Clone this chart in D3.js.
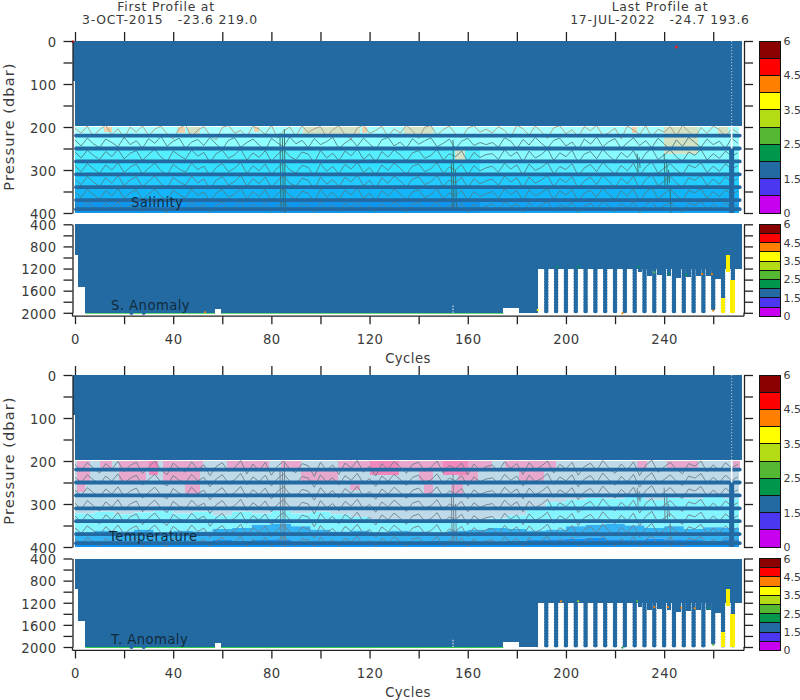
<!DOCTYPE html>
<html><head><meta charset="utf-8">
<script src="https://cdn.jsdelivr.net/npm/d3@7"></script>
<style>html,body{margin:0;padding:0;background:#fff}svg{display:block}
text{font-family:"DejaVu Sans",sans-serif;fill:#3a3a3a;font-size:13.2px;letter-spacing:.45px}
.tick line,.domain{stroke:#222;stroke-width:1.3;fill:none}
rect{shape-rendering:crispEdges}
</style></head><body><svg id="c" width="800" height="700"></svg>
<script>
// ---------- axis labels ----------
const shallowTicks=[0,50,100,150,200,250,300,350,400];
const shallowLabels=[0,100,200,300,400];
const deepTicks=[400,600,800,1000,1200,1400,1600,1800,2000];
const deepLabels=[400,800,1200,1600,2000];
const cycleTicks=[0,20,40,60,80,100,120,140,160,180,200,220,240,260];
const cycleLabels=[0,40,80,120,160,200,240];
const barLabels=["6","4.5","3.5","2.5","1.5","0"];
const barLabelPos=[0,2,4,6,8,10];
const barColors=["#8b0000","#ff0000","#ff8000","#ffff00","#b4dc14","#55b832","#00964b","#236aa3","#4b37f0","#c800f0"];
const headerLines=["First Profile at","3-OCT-2015   -23.6 219.0","Last Profile at","17-JUL-2022   -24.7 193.6"];
// ---------- sampled levels, fills ----------
const bandLevels=[220,250,280,310,340,370,391];
const bandStops=[200,220,250,280,310,340,370,400];
const salFillLeft=["#a8ffff","#90ffff","#55eeff","#33dfff","#22caff","#14b4f8","#1196f0"];
const salFillRight=["#a8ffff","#9cffff","#88faff","#55eaff","#22ccff","#14b4f8","#14a4f6"];
const tanStart=[12,42,46,73,93,117,134,155,227,240,262];
const tanEnd=[15,45,51,75,116,119,146,159,229,254,266];
const tanTop=[200,200,200,200,200,200,200,250,200,200,200];
const tanBottom=[212,214,218,212,219,214,219,280,214,262,218];
const tempBoundCycles=[0,8,16,24,32,40,48,56,64,72,80,88,96,104,112,120,128,136,144,152,160,168,176,184,192,200,208,216,224,232,240,248,256,264,272];
const tempCyan=[322,318,324,320,316,322,318,326,318,322,316,322,318,324,330,338,340,342,338,344,338,334,326,312,296,290,286,288,284,290,286,288,284,288,286];
const tempBlue=[366,362,364,360,366,362,364,358,356,348,346,352,360,364,362,366,362,364,366,362,360,356,358,362,360,352,348,346,350,356,352,358,354,356,352];
const tempDeep=[392,390,388,392,390,392,388,384,386,384,382,388,390,392,388,390,392,390,386,392,390,388,386,384,382,380,378,382,384,380,382,384,386,382,384];
const pinkStart=[1,10,18,36,47,62,69,84,107,134,175,229,241,268,1,18,36,92,140,156,181,1,45,112,142,153];
const pinkEnd=[6,15,30,50,52,69,79,92,134,170,196,233,254,271,6,29,51,107,146,164,191,4,51,116,146,158];
const pinkTop=[200,200,200,200,200,200,200,200,200,200,200,200,200,200,220,220,220,220,220,220,220,250,250,250,250,250];
const pinkBottom=[220,220,220,220,220,220,220,220,220,220,220,220,220,220,250,250,250,250,250,250,250,272,280,268,280,280];
const hotStart=[30,120,150,156];
const hotEnd=[34,132,160,159];
// ---------- contours (pressure per 2.5 cycles) ----------
const contourStep=2.5;
const salC1=[203,214,198,222,206,196,218,204,226,200,212,197,220,205,198,216,228,203,195,224,207,199,219,230,201,196,214,208,222,198,205,217,196,226,209,200,221,197,213,204,199,224,206,197,218,228,202,196,215,208,198,223,204,214,196,209,227,200,197,219,206,198,216,225,203,197,212,205,214,199,208,225,196,204,219,198,211,227,202,197,216,206,223,199,209,196,220,213,203,228,198,207,217,197,224,205,212,199,221,196,210,226,201,215,198,206,222,204,213];
const salC2=[230,244,226,239,248,228,236,246,224,241,232,249,227,238,222,245,233,226,250,235,229,243,224,240,252,231,225,247,236,228,242,254,226,237,246,223,239,231,248,227,241,234,224,250,237,228,245,226,239,252,230,224,244,235,249,227,240,232,225,246,238,228,251,233,226,243,236,241,236,247,225,233,251,229,242,224,238,249,231,226,244,235,253,228,240,223,246,234,227,250,237,225,243,232,248,226,239,254,230,245,224,236,247,228,241,233,250,226,238];
const salC3=[258,272,254,266,276,257,269,252,274,261,255,278,263,252,270,281,256,266,275,253,268,259,283,262,254,273,265,251,277,260,271,255,280,264,252,269,276,258,263,284,254,272,261,278,256,267,251,275,263,282,257,270,253,265,279,260,255,273,266,252,277,262,269,256,280,259,271,264,262,275,253,268,258,281,256,272,264,251,278,260,269,254,283,263,257,274,252,267,279,259,271,255,284,261,250,276,265,253,270,280,258,266,252,277,262,273,256,268,260];
const salC4=[290,304,285,297,308,288,300,283,306,293,286,309,296,284,301,312,287,298,305,284,299,291,314,294,285,304,296,282,308,290,302,286,311,295,283,300,307,289,294,315,285,303,292,309,287,298,282,306,294,313,288,301,284,296,310,291,286,304,297,283,308,293,300,287,311,290,302,295,291,305,284,298,288,312,286,301,294,283,309,292,299,285,313,295,287,304,282,297,310,289,302,284,314,293,281,307,296,285,300,311,288,295,283,306,291,303,286,298,290];
const salC5=[322,334,315,328,338,318,331,313,336,323,316,339,326,314,332,342,317,328,335,314,330,321,344,324,315,335,327,312,338,320,332,316,341,325,313,331,337,319,324,345,316,333,322,339,317,328,312,336,324,343,318,331,314,326,340,321,316,334,327,313,338,323,330,317,341,320,332,325,321,336,314,328,318,342,316,331,323,313,339,320,329,315,343,325,317,334,312,327,340,319,332,314,344,322,311,337,326,315,330,341,318,324,313,336,321,333,316,328,320];
const salC6=[351,364,345,358,367,348,360,343,366,353,346,369,356,344,361,371,347,358,365,344,359,351,373,354,345,364,356,342,368,350,362,346,371,355,343,360,367,349,354,374,345,363,352,369,347,358,342,366,354,372,348,361,344,356,370,351,346,364,357,343,368,353,360,347,371,350,362,355,350,365,344,357,348,372,346,360,353,343,369,349,358,345,373,354,347,363,342,356,370,348,361,344,374,352,341,367,355,345,359,371,347,353,343,366,350,362,346,357,349];
const salC7=[378,392,375,386,396,377,389,374,394,382,376,397,385,373,390,399,376,387,393,374,388,380,399,383,375,392,385,372,396,379,390,376,398,384,373,389,395,378,383,399,375,391,381,397,377,387,372,394,383,398,378,390,374,385,397,380,376,392,386,373,396,382,389,377,398,379,390,384,379,393,374,386,378,398,376,390,382,373,396,380,387,375,399,384,377,392,372,385,397,378,389,374,399,381,371,394,383,375,388,398,377,382,373,393,379,391,376,386,380];
const tmpC1=[208,222,204,216,228,206,219,201,225,210,203,229,214,200,221,232,205,217,226,202,220,209,234,213,204,224,216,199,230,207,223,203,233,212,200,219,227,206,211,236,203,222,209,231,205,216,199,226,212,235,206,220,201,214,229,208,203,224,215,200,228,210,218,205,232,207,221,213,209,224,202,217,206,231,204,220,212,200,228,208,218,203,233,213,205,223,199,216,229,207,221,202,234,210,198,226,214,203,219,230,206,212,200,225,209,222,204,216,208];
const tmpC2=[238,250,232,244,254,235,247,230,252,240,233,256,243,231,249,258,234,245,251,231,246,238,260,242,232,251,244,229,255,237,248,233,258,241,230,247,253,236,240,261,232,249,239,256,234,245,229,252,241,259,235,247,231,243,257,238,233,250,244,230,254,240,246,234,258,237,248,242,239,252,231,245,235,258,233,248,241,229,255,237,246,232,260,242,234,251,228,244,256,236,249,231,261,239,227,253,243,232,247,257,235,240,229,252,238,250,233,245,237];
const tmpC3=[268,280,262,274,284,265,277,260,282,270,263,286,273,261,279,288,264,275,281,261,276,268,290,272,262,281,274,259,285,267,278,263,288,271,260,277,283,266,270,291,262,279,269,286,264,275,259,282,271,289,265,277,261,273,287,268,263,280,274,260,284,270,276,264,288,267,278,272,269,282,261,275,265,288,263,278,271,259,285,267,276,262,290,272,264,281,258,274,286,266,279,261,291,269,257,283,273,262,277,287,265,270,259,282,268,280,263,275,267];
const tmpC4=[298,312,292,304,316,295,307,290,314,300,293,318,303,291,309,320,294,305,311,291,306,298,322,302,292,311,304,289,315,297,308,293,318,301,290,307,313,296,300,323,292,309,299,316,294,305,289,312,301,319,295,307,291,303,317,298,293,310,304,290,314,300,306,294,318,297,308,302,299,313,291,305,295,318,293,308,301,289,315,297,306,292,320,302,294,311,288,304,316,296,309,291,321,299,287,313,303,292,307,317,295,300,289,312,298,310,293,305,297];
const tmpC5=[328,342,323,334,346,325,337,320,344,330,323,348,333,321,339,350,324,335,341,321,336,328,352,332,322,341,334,319,345,327,338,323,348,331,320,337,343,326,330,353,322,339,329,346,324,335,319,342,331,349,325,337,321,333,347,328,323,340,334,320,344,330,336,324,348,327,338,332,329,343,322,335,325,348,323,338,331,319,345,327,336,322,350,332,324,341,318,334,346,326,339,321,351,329,317,343,333,322,337,347,325,330,319,342,328,340,323,335,327];
const tmpC6=[356,368,351,362,372,353,365,349,370,358,351,374,361,349,367,376,352,363,369,349,364,356,378,360,350,369,362,347,373,355,366,351,376,359,348,365,371,354,358,379,350,367,357,374,352,363,347,370,359,377,353,365,349,361,375,356,351,368,362,348,372,358,364,352,376,355,366,360,357,369,350,363,353,374,351,366,359,347,372,355,364,350,376,360,352,368,346,362,373,354,367,349,377,357,345,370,361,350,365,374,353,358,347,369,356,367,351,363,355];
const tmpC7=[382,394,378,388,398,380,391,376,396,384,378,399,387,376,393,399,379,389,395,376,390,383,399,386,377,395,388,375,398,382,392,378,399,385,375,391,397,381,384,399,377,393,383,399,379,389,375,396,385,399,380,391,376,387,399,382,378,394,388,375,398,384,390,379,399,381,392,386,383,395,377,389,380,398,378,392,385,375,397,381,390,377,399,386,379,394,374,388,398,380,393,376,399,383,373,395,387,377,391,398,379,384,375,394,382,392,378,389,381];
const salContours=[salC1,salC2,salC3,salC4,salC5,salC6,salC7];
const tmpContours=[tmpC1,tmpC2,tmpC3,tmpC4,tmpC5,tmpC6,tmpC7];
const spikeCycle=[83.5,84.5,85.3,153.3,154,155,229,229.8,240,241,241.8,242.4];
const spikeTop=[215,225,205,280,230,300,262,270,262,275,300,340];
const spikeBottom=[398,398,400,392,392,385,305,295,345,335,330,400];
// ---------- top-panel overlays ----------
const redCycle=[-0.8,245];
const redPress=[2,14];
const blueBarCycle=[267.5];
const blueBarTop=[250];
const blueBarBottom=[400];
// ---------- deep panels ----------
const segStart=[0,1.2,4.2,174.5,181,188.7];
const segEnd=[1.2,4.2,174.5,181,188.7,271.6];
const segBottom=[960,1530,2000,1915,2000,1200];
const columnCycle=[192,196,200,204,208,212,216,220,224,228,232,236,240,244,248,252,256,260,264,268];
const columnBottom=[2000,2000,2000,2000,2000,2000,2000,2000,2000,2000,2000,2000,2000,2000,2000,2000,2000,1950,2000,2000];
const shoulderStart=[229.5,233,237,241,245,249,253,257,260.5];
const shoulderEnd=[231,235,239,243,247,251,255,259,263];
const shoulderBottom=[1270,1330,1310,1340,1370,1350,1340,1340,1390];
const yellowStart=[263,265.2,267];
const yellowEnd=[264.6,267,268.8];
const yellowTop=[1730,955,1407];
const yellowBottom=[2000,1257,2000];
const notchCycle=[57,59.6];
const notchTop=1930;
const dotCycle=[23,28];
const saTipCycle=[196.5,205,229.5,236,242,249,255.5,259.5,260,53,223,188.5];
const saTipPress=[1170,1170,1170,1270,1300,1310,1300,1300,1960,1990,2010,1950];
const saTipColor=[6,6,6,5,6,6,2,2,2,2,2,3];
const taTipCycle=[198,205,229,236,241.5,247,252.5,258,260,223];
const taTipPress=[1175,1175,1170,1280,1280,1290,1300,1300,1960,2010];
const taTipColor=[2,4,5,2,2,2,2,6,5,6];

const svg=d3.select("#c");
const x=d3.scaleLinear().domain([0,271.6]).range([75,741.7]);
const dark="#236aa3";
const lineGen=d3.line().x((d,i)=>x(i*contourStep)).y(d=>d);

function shallowPanel(top,bottom,kind){
  const y=d3.scaleLinear().domain([0,400]).range([top,bottom]);
  const g=svg.append("g");
  const f=g.append("g");
  if(kind==="S"){
    bandStops.slice(0,-1).forEach((p,i)=>{
      f.append("rect").attr("x",x(0)).attr("width",x(165)-x(0)).attr("y",y(p)).attr("height",y(bandStops[i+1])-y(p)).attr("fill",salFillLeft[i]);
      f.append("rect").attr("x",x(165)).attr("width",x(270.5)-x(165)).attr("y",y(p)).attr("height",y(bandStops[i+1])-y(p)).attr("fill",salFillRight[i]);
    });
    tanStart.forEach((c,i)=>{
      f.append("rect").attr("x",x(c)).attr("width",x(tanEnd[i])-x(c)).attr("y",y(tanTop[i])).attr("height",y(tanBottom[i])-y(tanTop[i])).attr("fill",(tanEnd[i]-c)<3.5?"#eed0aa":"#d2e2c4");
    });
  }else{
    const mk=(a,b,col)=>f.append("path").attr("fill",col).attr("d",d3.area().curve(d3.curveStepAfter)
      .x((d,i)=>x(Math.min(tempBoundCycles[i],270.5))).y0((d,i)=>y(a[i])).y1((d,i)=>y(b?b[i]:400))(tempBoundCycles));
    const top200=tempBoundCycles.map(()=>200);
    mk(top200,tempCyan,"#bedae9");
    mk(tempCyan,tempBlue,"#84f4ff");
    mk(tempBlue,tempDeep,"#33b2f4");
    mk(tempDeep,null,"#0f90f5");
    pinkStart.forEach((c,i)=>f.append("rect").attr("x",x(c)).attr("width",x(pinkEnd[i])-x(c)).attr("y",y(pinkTop[i])).attr("height",y(pinkBottom[i])-y(pinkTop[i])).attr("fill","#e8a8cd"));
    hotStart.forEach((c,i)=>f.append("rect").attr("x",x(c)).attr("width",x(hotEnd[i])-x(c)).attr("y",y(200)).attr("height",y(232)-y(200)).attr("fill","#f088bd"));
  }
  // contours
  const cs=kind==="S"?salContours:tmpContours;
  cs.forEach((arr,k)=>{
    g.append("path").attr("fill","none").attr("stroke",kind==="S"?(k===0?"#a89a78":"#4f7f88"):"#6f7f88")
      .attr("stroke-width",.9).attr("d",lineGen(arr.map(p=>y(p))));
  });
  spikeCycle.forEach((c,i)=>{
    g.append("line").attr("x1",x(c)).attr("x2",x(c)+1).attr("y1",y(spikeTop[i])).attr("y2",y(spikeBottom[i])).attr("stroke",kind==="S"?"#3a6a60":"#6f7f88").attr("stroke-width",.9);
  });
  // sampled levels
  bandLevels.forEach(p=>{
    g.append("line").attr("x1",x(0)+1).attr("x2",x(270.8)).attr("y1",y(p)).attr("y2",y(p)).attr("stroke",dark).attr("stroke-width",3.8).attr("stroke-linecap","round");
  });
  // top block
  g.append("rect").attr("x",72.5).attr("width",x(0)-72.5).attr("y",y(0)).attr("height",y(92)-y(0)).attr("fill",dark);
  g.append("rect").attr("x",x(0)).attr("width",x(271.6)-x(0)).attr("y",y(0)).attr("height",y(197)-y(0)).attr("fill",dark);
  blueBarCycle.forEach((c,i)=>{
    g.append("line").attr("x1",x(c)).attr("x2",x(c)).attr("y1",y(blueBarTop[i])).attr("y2",y(blueBarBottom[i])).attr("stroke",dark).attr("stroke-width",5);
    g.append("line").attr("x1",x(c)).attr("x2",x(c)).attr("y1",y(0)).attr("y2",y(197)).attr("stroke","#c9dcea").attr("stroke-width",.8).attr("stroke-dasharray","1.2 1.8");
    g.append("line").attr("x1",x(c)).attr("x2",x(c)).attr("y1",y(197)).attr("y2",y(blueBarTop[i])).attr("stroke","#fff").attr("stroke-width",1.6);
  });
  if(kind==="S"){
    redCycle.forEach((c,i)=>g.append("circle").attr("cx",x(c)).attr("cy",y(redPress[i])).attr("r",1.5).attr("fill","#e8202a"));
  }
  // axes
  const fmt=d=>shallowLabels.includes(d)?d:"";
  const l=g.append("g").attr("transform","translate(72.5,0)").call(d3.axisLeft(y).tickValues(shallowTicks).tickFormat(fmt).tickSize(9).tickSizeOuter(0));
  g.append("g").attr("transform","translate(744,0)").call(d3.axisRight(y).tickValues(shallowTicks).tickFormat("").tickSize(9).tickSizeOuter(0));
  l.attr("font-size",null).attr("font-family",null);
  l.selectAll("text").attr("dx","-4").attr("dy","0.4em");
  const t=g.append("g").attr("transform",`translate(0,${top})`).call(d3.axisTop(x).tickValues(cycleTicks).tickFormat("").tickSize(9).tickSizeOuter(0));
  t.select(".domain").remove();
  g.append("text").attr("transform",`translate(14,${(top+bottom)/2-.5}) rotate(-90)`).attr("text-anchor","middle").text("Pressure (dbar)").style("font-size","14.6px").style("letter-spacing","1.1px");
  colorBar(top,bottom);
  return y;
}

function colorBar(top,bottom){
  const h=(bottom-top)/barColors.length;
  const g=svg.append("g");
  barColors.forEach((c,i)=>g.append("rect").attr("x",759).attr("y",top+i*h).attr("width",21).attr("height",h).attr("fill",c).attr("stroke","#111").attr("stroke-width",1));
  barLabels.forEach((s,i)=>g.append("text").attr("x",783.5).attr("y",top+barLabelPos[i]*h+4).style("font-size","11px").style("letter-spacing","0").text(s));
}

function deepPanel(top,kind){
  const yBot=top+88.5;
  const y=d3.scaleLinear().domain([400,2000]).range([top,yBot]);
  const g=svg.append("g");
  // green bottom rim
  g.append("line").attr("x1",x(4.2)).attr("x2",x(174.5)).attr("y1",y(2000)+.4).attr("y2",y(2000)+.4).attr("stroke","#2fcf4a").attr("stroke-width",1.2);
  segStart.forEach((c,i)=>g.append("rect").attr("x",x(c)).attr("width",x(segEnd[i])-x(c)).attr("y",y(400)).attr("height",y(segBottom[i])-y(400)).attr("fill",dark));
  shoulderStart.forEach((c,i)=>g.append("rect").attr("x",x(c)).attr("width",x(shoulderEnd[i])-x(c)).attr("y",y(1190)).attr("height",y(shoulderBottom[i])-y(1190)).attr("fill",dark));
  columnCycle.forEach((c,i)=>{
    g.append("line").attr("x1",x(c)).attr("x2",x(c)).attr("y1",y(1180)).attr("y2",y(columnBottom[i])).attr("stroke",dark).attr("stroke-width",3.4);
    g.append("line").attr("x1",x(c)).attr("x2",x(c)).attr("y1",y(1180)).attr("y2",y(columnBottom[i])).attr("stroke",dark).attr("stroke-width",4.6).attr("stroke-linecap","round").attr("stroke-dasharray","0 2.9");
  });
  g.append("rect").attr("x",x(notchCycle[0])).attr("width",x(notchCycle[1])-x(notchCycle[0])).attr("y",y(notchTop)).attr("height",y(2000)+1.5-y(notchTop)).attr("fill","#fff");
  g.append("line").attr("x1",x(154)).attr("x2",x(154)).attr("y1",y(1870)).attr("y2",y(2000)).attr("stroke","#fff").attr("stroke-width",1).attr("stroke-dasharray","1.5 1.5");
  dotCycle.forEach(c=>g.append("circle").attr("cx",x(c)).attr("cy",y(2000)).attr("r",2.1).attr("fill",dark));
  yellowStart.forEach((c,i)=>g.append("rect").attr("x",x(c)).attr("width",x(yellowEnd[i])-x(c)).attr("y",y(yellowTop[i])).attr("height",y(yellowBottom[i])-y(yellowTop[i])).attr("fill","#ffef00"));
  const tc=kind==="S"?saTipCycle:taTipCycle, tp=kind==="S"?saTipPress:taTipPress, tk=kind==="S"?saTipColor:taTipColor;
  tc.forEach((c,i)=>g.append("circle").attr("cx",x(c)).attr("cy",y(tp[i])).attr("r",1.1).attr("fill",barColors[tk[i]]));
  // axes
  const fmt=d=>deepLabels.includes(d)?d:"";
  const l=g.append("g").attr("transform","translate(72.5,0)").call(d3.axisLeft(y).tickValues(deepTicks).tickFormat(fmt).tickSize(9).tickSizeOuter(0));
  l.selectAll("text").attr("dx","-4").attr("dy","0.4em");
  l.attr("font-size",null).attr("font-family",null);
  g.append("g").attr("transform","translate(744,0)").call(d3.axisRight(y).tickValues(deepTicks).tickFormat("").tickSize(9).tickSizeOuter(0));
  const extLine=(xp)=>g.append("line").attr("x1",xp).attr("x2",xp).attr("y1",yBot).attr("y2",yBot+3.4).attr("stroke","#222").attr("stroke-width",1.3);
  extLine(72.5);extLine(744);
  const b=g.append("g").attr("transform",`translate(0,${yBot+3.4})`).call(d3.axisBottom(x).tickValues(cycleTicks).tickFormat(d=>cycleLabels.includes(d)?d:"").tickSize(8).tickSizeOuter(0));
  b.attr("font-size",null).attr("font-family",null);
  b.selectAll("text").attr("dy","1.25em");
  b.select(".domain").attr("d",`M72.5,0H744`);
  g.append("text").attr("x",408).attr("y",yBot+50).attr("text-anchor","middle").text("Cycles");
  colorBar(top,yBot+3.4);
}

shallowPanel(41,213,"S");
deepPanel(224.3,"S");
shallowPanel(375,547,"T");
deepPanel(558.5,"T");

const ann=svg.append("g");
const hdr=(t,xp,yp)=>ann.append("text").attr("x",xp).attr("y",yp).attr("text-anchor","middle").style("white-space","pre").style("font-size","12.4px").style("letter-spacing",".8px").text(t);
hdr(headerLines[0],166,11);
hdr(headerLines[1],170,24);
hdr(headerLines[2],660,11);
hdr(headerLines[3],660,24);
ann.append("text").attr("x",131).attr("y",207).style("fill","#102a3a").text("Salinity");
ann.append("text").attr("x",111).attr("y",310).style("fill","#102a3a").text("S. Anomaly");
ann.append("text").attr("x",109).attr("y",541).style("fill","#102a3a").text("Temperature");
ann.append("text").attr("x",111).attr("y",644).style("fill","#102a3a").text("T. Anomaly");
</script></body></html>
